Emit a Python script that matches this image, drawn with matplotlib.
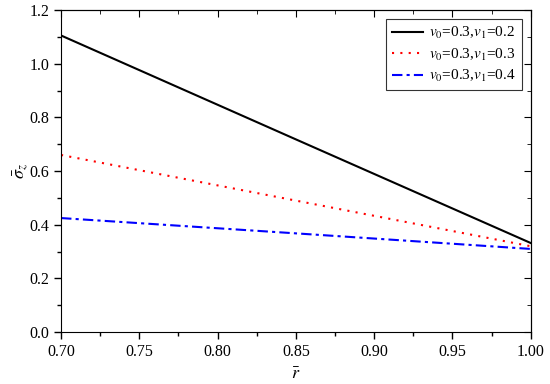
import matplotlib
matplotlib.use("Agg")
import matplotlib.pyplot as plt
from matplotlib.ticker import MultipleLocator, FormatStrFormatter

plt.rcParams['font.family'] = ['Liberation Serif', 'DejaVu Serif']
plt.rcParams['mathtext.fontset'] = 'stix'

# data
r = [0.70, 0.85, 1.00]
sigma_02 = [1.105, 0.718, 0.332]
sigma_03 = [0.66, 0.49, 0.32]
sigma_04 = [0.425, 0.368, 0.31]
labels = [r'$v_0$=0.3,$v_1$=0.2', r'$v_0$=0.3,$v_1$=0.3', r'$v_0$=0.3,$v_1$=0.4']

fig, ax = plt.subplots(figsize=(5.5, 3.84), dpi=100)
fig.subplots_adjust(left=0.111, right=0.965, top=0.974, bottom=0.135)

ax.plot(r, sigma_02, color='black', linestyle='-', linewidth=1.5, label=labels[0])
ax.plot(r, sigma_03, color='red', linestyle=(0, (1, 3)), linewidth=1.5, label=labels[1])
ax.plot(r, sigma_04, color='blue', linestyle=(0, (5, 2, 1.5, 2)), linewidth=1.5, label=labels[2])

ax.set_xlim(0.70, 1.00)
ax.set_ylim(0.0, 1.2)
ax.xaxis.set_major_locator(MultipleLocator(0.05))
ax.xaxis.set_minor_locator(MultipleLocator(0.025))
ax.yaxis.set_major_locator(MultipleLocator(0.2))
ax.yaxis.set_minor_locator(MultipleLocator(0.1))
ax.xaxis.set_major_formatter(FormatStrFormatter('%.2f'))
ax.yaxis.set_major_formatter(FormatStrFormatter('%.1f'))
ax.tick_params(which='both', direction='out', labelsize=11.5, width=1)
ax.tick_params(which='major', length=5)
ax.tick_params(which='minor', length=3)

# mirrored axes with inward ticks, no labels
top = ax.secondary_xaxis('top')
top.xaxis.set_major_locator(MultipleLocator(0.05))
top.xaxis.set_minor_locator(MultipleLocator(0.025))
top.tick_params(which='both', direction='in', labeltop=False)
top.tick_params(which='major', length=5)
top.tick_params(which='minor', length=3)
right = ax.secondary_yaxis('right')
right.yaxis.set_major_locator(MultipleLocator(0.2))
right.yaxis.set_minor_locator(MultipleLocator(0.1))
right.tick_params(which='both', direction='in', labelright=False)
right.tick_params(which='major', length=5)
right.tick_params(which='minor', length=3)

ax.set_xlabel(r'$\bar{r}$', fontsize=13, labelpad=4)
ax.set_ylabel(r'$\bar{\sigma}_z$', fontsize=13, labelpad=-1)

leg = ax.legend(loc='upper right', fontsize=11, frameon=True, fancybox=False,
                edgecolor='black', handlelength=2.0, handletextpad=0.4,
                borderaxespad=0.6, labelspacing=0.35, borderpad=0.4)
leg.get_frame().set_linewidth(0.8)

fig.savefig('out.png', dpi=100)
